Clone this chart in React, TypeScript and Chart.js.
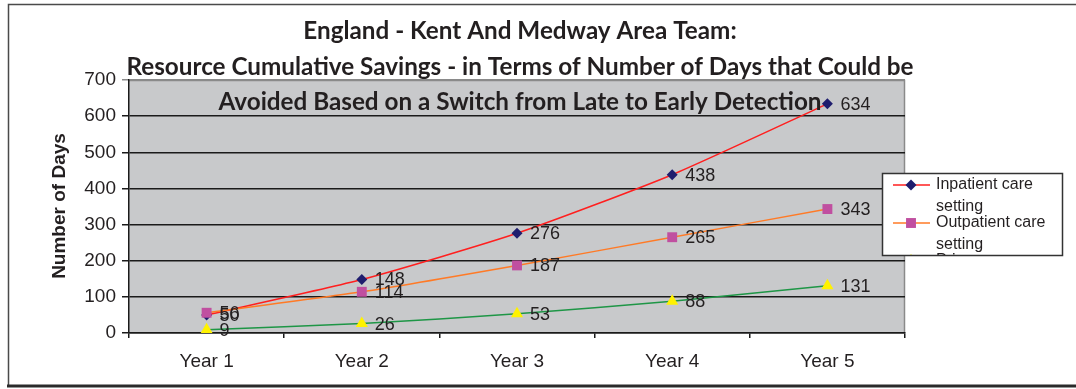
import React, { useEffect, useRef } from "react";
import { Chart, registerables } from "chart.js";

Chart.register(...registerables);

const categories = ["Year 1", "Year 2", "Year 3", "Year 4", "Year 5"];
const inpatient = [50, 148, 276, 438, 634];
const outpatient = [56, 114, 187, 265, 343];
const primary = [9, 26, 53, 88, 131];
const seriesNames = ["Inpatient care setting", "Outpatient care setting", "Primary care setting"];
const legendLines = [["Inpatient care", "setting"], ["Outpatient care", "setting"], ["Primary care", "setting"]];
const titleLines = [
  "England - Kent And Medway Area Team:",
  "Resource Cumulative Savings - in Terms of Number of Days that Could be",
  "Avoided Based on a Switch from Late to Early Detection",
];
const yAxisTitle = "Number of Days";
const yMin = 0;
const yMax = 700;
const yStep = 100;

const TEXT = "#231f20";
const PLOT_BG = "#c8c9cb";
const lineColors = ["#ff1f1f", "#ff7a26", "#1e9646"];
const markerColors = ["#1f1d6e", "#c04fa0", "#fff200"];
const markerStyles = ["rectRot", "rect", "triangle"];
const markerRadius = [5.5, 7, 7];

const decorPlugin = {
  id: "decor",
  beforeDraw(chart: any) {
    const { ctx, chartArea: a } = chart;
    ctx.save();
    ctx.fillStyle = "#ffffff";
    ctx.fillRect(0, 0, chart.width, chart.height);
    ctx.fillStyle = PLOT_BG;
    ctx.fillRect(a.left, a.top, a.right - a.left, a.bottom - a.top);
    ctx.strokeStyle = "#8a8a8a";
    ctx.lineWidth = 1.5;
    ctx.beginPath();
    ctx.moveTo(a.left, a.top + 0.5);
    ctx.lineTo(a.right - 0.5, a.top + 0.5);
    ctx.lineTo(a.right - 0.5, a.bottom);
    ctx.stroke();
    ctx.restore();
  },
  afterDatasetsDraw(chart: any) {
    const { ctx } = chart;
    ctx.save();
    ctx.font = "18px 'Liberation Sans', Arial, sans-serif";
    ctx.fillStyle = TEXT;
    ctx.textAlign = "left";
    ctx.textBaseline = "middle";
    chart.data.datasets.forEach((ds: any, i: number) => {
      const meta = chart.getDatasetMeta(i);
      meta.data.forEach((pt: any, j: number) => {
        ctx.fillText(String(ds.data[j]), pt.x + 13, pt.y + 1);
      });
    });
    ctx.restore();
  },
  afterDraw(chart: any) {
    const { ctx } = chart;
    ctx.save();
    // Title
    ctx.fillStyle = TEXT;
    ctx.textAlign = "center";
    ctx.textBaseline = "middle";
    ctx.font = "bold 100px Lato, 'Open Sans', sans-serif";
    const w = ctx.measureText(titleLines[1]).width;
    const size = (100 * 787) / w;
    ctx.font = `bold ${size.toFixed(2)}px Lato, 'Open Sans', sans-serif`;
    const ys = [31, 67, 102];
    titleLines.forEach((t, i) => ctx.fillText(t, 520, ys[i]));

    // Y axis title
    ctx.save();
    ctx.translate(60, 206);
    ctx.rotate(-Math.PI / 2);
    ctx.font = "bold 19px 'Liberation Sans', Arial, sans-serif";
    ctx.fillText(yAxisTitle, 0, 0);
    ctx.restore();

    // Legend
    const lx = 882, ly = 173, lw = 180, lh = 82;
    ctx.save();
    ctx.beginPath();
    ctx.rect(lx, ly, lw, lh);
    ctx.clip();
    ctx.fillStyle = "#ffffff";
    ctx.fillRect(lx, ly, lw, lh);
    ctx.font = "16px 'Liberation Sans', Arial, sans-serif";
    ctx.textAlign = "left";
    ctx.textBaseline = "middle";
    legendLines.forEach((lines, i) => {
      const ey = 185 + i * 38;
      ctx.strokeStyle = lineColors[i];
      ctx.lineWidth = 1.5;
      ctx.beginPath();
      ctx.moveTo(893, ey);
      ctx.lineTo(930, ey);
      ctx.stroke();
      ctx.fillStyle = markerColors[i];
      ctx.strokeStyle = markerColors[i];
      ctx.lineWidth = 1;
      (Chart as any).helpers
        ? null
        : null;
      drawMarker(ctx, markerStyles[i], 911, ey, markerRadius[i]);
      ctx.fillStyle = TEXT;
      lines.forEach((ln, k) => ctx.fillText(ln, 936, ey + k * 22));
    });
    ctx.restore();
    ctx.strokeStyle = "#333333";
    ctx.lineWidth = 1.5;
    ctx.strokeRect(lx + 0.5, ly + 0.5, lw, lh);

    // Outer frame
    ctx.strokeStyle = "#4a4a4a";
    ctx.lineWidth = 1.5;
    ctx.beginPath();
    ctx.moveTo(chart.width, 4.5);
    ctx.lineTo(8.5, 4.5);
    ctx.lineTo(8.5, 386);
    ctx.stroke();
    ctx.strokeStyle = "#2a2a2a";
    ctx.lineWidth = 3;
    ctx.beginPath();
    ctx.moveTo(7, 386);
    ctx.lineTo(chart.width, 386);
    ctx.stroke();
    ctx.restore();
  },
};

function drawMarker(ctx: CanvasRenderingContext2D, style: string, x: number, y: number, r: number) {
  ctx.beginPath();
  if (style === "rectRot") {
    ctx.moveTo(x, y - r);
    ctx.lineTo(x + r, y);
    ctx.lineTo(x, y + r);
    ctx.lineTo(x - r, y);
  } else if (style === "rect") {
    const s = Math.SQRT1_2 * r;
    ctx.rect(x - s, y - s, 2 * s, 2 * s);
  } else {
    const h = r * 1.5;
    ctx.moveTo(x, y - r);
    ctx.lineTo(x + (h * 2) / Math.sqrt(3) / 1.5 * 0.87, y + r / 2);
    ctx.lineTo(x - (h * 2) / Math.sqrt(3) / 1.5 * 0.87, y + r / 2);
  }
  ctx.closePath();
  ctx.fill();
}

export default function App() {
  const ref = useRef<HTMLCanvasElement | null>(null);
  useEffect(() => {
    if (!ref.current) return;
    const seriesData = [inpatient, outpatient, primary];
    const chart = new Chart(ref.current, {
      type: "line",
      data: {
        labels: categories,
        datasets: seriesData.map((d, i) => ({
          label: seriesNames[i],
          data: d,
          borderColor: lineColors[i],
          backgroundColor: markerColors[i],
          borderWidth: 1.5,
          tension: 0.2,
          pointStyle: markerStyles[i] as any,
          pointRadius: markerRadius[i],
          pointBackgroundColor: markerColors[i],
          pointBorderColor: markerColors[i],
          pointBorderWidth: 0,
          order: 2 - i,
          fill: false,
        })),
      },
      options: {
        responsive: false,
        animation: false,
        events: [],
        layout: { padding: { top: 80, right: 171, left: 0, bottom: 0 } },
        plugins: { legend: { display: false }, title: { display: false }, tooltip: { enabled: false } },
        scales: {
          x: {
            offset: true,
            afterFit: (s: any) => { s.height = 56; },
            grid: { offset: true, drawOnChartArea: false, drawTicks: true, tickLength: 5, color: "#1a1a1a", lineWidth: 1.5 },
            border: { color: "#1a1a1a", width: 1.5 },
            ticks: { color: TEXT, padding: 12, font: { family: "'Liberation Sans', Arial, sans-serif", size: 19 } },
          },
          y: {
            min: yMin,
            max: yMax,
            afterFit: (s: any) => { s.width = 129; },
            grid: {
              color: (c: any) => (c.tick && c.tick.value === yMax ? "#8a8a8a" : "#1a1a1a"),
              lineWidth: 1.5,
              tickLength: 7,
            },
            border: { color: "#1a1a1a", width: 1.5 },
            ticks: { stepSize: yStep, color: TEXT, padding: 6, font: { family: "'Liberation Sans', Arial, sans-serif", size: 19 } },
          },
        },
      },
      plugins: [decorPlugin],
    });
    return () => chart.destroy();
  }, []);
  return (
    <div style={{ position: "absolute", left: 0, top: 0, width: 1076, height: 389 }}>
      <canvas ref={ref} width={1076} height={389} />
    </div>
  );
}
